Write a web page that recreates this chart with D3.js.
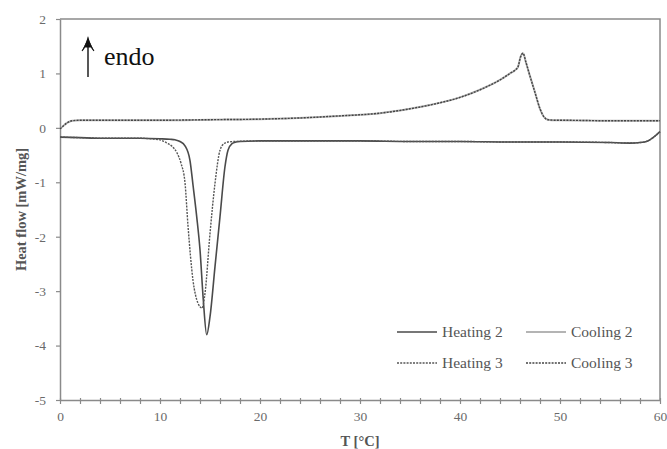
<!DOCTYPE html>
<html>
<head>
<meta charset="utf-8">
<script src="https://cdn.jsdelivr.net/npm/d3@7"></script>
<style>
  body { margin: 0; background: #fff; }
  svg { display: block; }
</style>
</head>
<body>
<svg id="chart" width="667" height="449"></svg>
<script>
// DSC curves
const heat2T = [0, 2, 4, 6, 8, 10, 11, 11.5, 12, 12.5, 13, 13.3, 13.67, 14, 14.33, 14.67, 15, 15.5, 16, 16.5, 16.8, 17.2, 17.6, 18, 20, 25, 30, 35, 40, 45, 50, 55, 57, 58, 58.8, 59.3, 59.7, 60];
const heat2 = [-0.17, -0.18, -0.19, -0.19, -0.19, -0.2, -0.21, -0.22, -0.25, -0.33, -0.6, -1.05, -1.63, -2.24, -3.16, -3.80, -3.47, -2.55, -1.63, -0.71, -0.41, -0.29, -0.26, -0.25, -0.24, -0.24, -0.24, -0.25, -0.25, -0.26, -0.26, -0.27, -0.28, -0.27, -0.24, -0.18, -0.12, -0.07];

const heat3T = [0, 2, 4, 6, 8, 9, 10, 10.7, 11.2, 11.7, 12.1, 12.5, 12.8, 13.3, 13.8, 14.2, 14.5, 15, 15.5, 16, 16.4, 16.8, 17.5, 20, 25, 30, 35, 40, 45, 50, 55, 57, 58, 58.8, 59.3, 59.7, 60];
const heat3 = [-0.17, -0.18, -0.19, -0.19, -0.19, -0.2, -0.22, -0.28, -0.34, -0.46, -0.65, -1.01, -1.8, -2.8, -3.22, -3.31, -3.04, -1.94, -1.02, -0.41, -0.29, -0.26, -0.25, -0.24, -0.24, -0.24, -0.25, -0.25, -0.26, -0.26, -0.27, -0.28, -0.27, -0.24, -0.18, -0.12, -0.07];

const cool2T = [0, 0.3, 0.7, 1.2, 2, 5, 10, 15, 20, 25, 28, 30, 32, 35, 37, 40, 42, 44, 45, 45.5, 45.8, 46.05, 46.3, 46.6, 47, 47.5, 48, 48.4, 48.8, 49.5, 50, 55, 60];
const cool2 = [-0.02, 0.03, 0.09, 0.13, 0.14, 0.14, 0.14, 0.15, 0.16, 0.19, 0.22, 0.24, 0.27, 0.35, 0.42, 0.56, 0.70, 0.88, 1.0, 1.06, 1.12, 1.3, 1.37, 1.2, 0.95, 0.65, 0.35, 0.2, 0.15, 0.14, 0.14, 0.13, 0.13];

const cool3T = [0, 0.3, 0.7, 1.2, 2, 5, 10, 15, 20, 25, 28, 30, 32, 35, 37, 40, 42, 44, 45, 45.5, 45.8, 46.05, 46.3, 46.6, 47, 47.5, 48, 48.4, 48.8, 49.5, 50, 55, 60];
const cool3 = [-0.02, 0.03, 0.09, 0.13, 0.14, 0.14, 0.14, 0.15, 0.16, 0.19, 0.22, 0.24, 0.27, 0.35, 0.42, 0.56, 0.70, 0.88, 1.0, 1.06, 1.12, 1.3, 1.37, 1.2, 0.95, 0.65, 0.35, 0.2, 0.15, 0.14, 0.14, 0.13, 0.13];

const xTicks = [0, 10, 20, 30, 40, 50, 60];
const yTicks = [-5, -4, -3, -2, -1, 0, 1, 2];
const legendNames = ["Heating 2", "Cooling 2", "Heating 3", "Cooling 3"];

const svg = d3.select("#chart");
const mLeft = 60, mRight = 660, mTop = 19, mBottom = 400;
const axisColor = "#8a8a8a";
const font = "'Liberation Serif', 'Times New Roman', serif";

const x = d3.scaleLinear().domain([0, 60]).range([mLeft, mRight]);
const y = d3.scaleLinear().domain([-5, 2]).range([mBottom, mTop]);

//frame (top + right)
svg.append("path")
  .attr("d", `M${mLeft},${mTop}H${mRight}V${mBottom}`)
  .attr("fill", "none")
  .attr("stroke", axisColor)
  .attr("stroke-width", 1.5)

//x axis with minor ticks every 2
const xAxis = svg.append("g")
  .attr("transform", `translate(0,${mBottom})`)
  .call(d3.axisBottom(x).tickValues(d3.range(0, 61, 2)).tickSize(4).tickSizeOuter(0)
    .tickFormat(d => xTicks.includes(d) ? String(d) : ""))
xAxis.select(".domain").attr("stroke", axisColor).attr("stroke-width", 1.5)
xAxis.selectAll(".tick line").attr("stroke", axisColor).attr("stroke-width", 1.2).attr("y1", -2)
xAxis.selectAll(".tick text")
  .attr("fill", "#6a6a6a").attr("font-family", font).attr("font-size", 13.5).attr("dy", "0.9em").attr("y", 9)

const yAxis = svg.append("g")
  .attr("transform", `translate(${mLeft},0)`)
  .call(d3.axisLeft(y).tickValues(yTicks).tickSize(4).tickSizeOuter(0).tickFormat(d => String(d)))
yAxis.select(".domain").attr("stroke", axisColor).attr("stroke-width", 1.5)
yAxis.selectAll(".tick line").attr("stroke", axisColor).attr("stroke-width", 1.2)
yAxis.selectAll(".tick text")
  .attr("fill", "#6a6a6a").attr("font-family", font).attr("font-size", 13.5).attr("x", -14)

//axis titles
svg.append("text")
  .attr("transform", `translate(26,${(mTop + mBottom) / 2}) rotate(-90)`)
  .attr("text-anchor", "middle")
  .attr("font-family", font).attr("font-weight", "bold").attr("font-size", 14.5)
  .attr("fill", "#555")
  .text("Heat flow [mW/mg]")

svg.append("text")
  .attr("x", (mLeft + mRight) / 2).attr("y", 446)
  .attr("text-anchor", "middle")
  .attr("font-family", font).attr("font-weight", "bold").attr("font-size", 14.5)
  .attr("fill", "#555")
  .text("T [°C]")

//curves
const line = d3.line().x(d => x(d[0])).y(d => y(d[1])).curve(d3.curveMonotoneX);
const series = [
  { name: legendNames[1], T: cool2T, v: cool2, color: "#b4b4b4", width: 2, dash: null },
  { name: legendNames[3], T: cool3T, v: cool3, color: "#444", width: 1.4, dash: "2,1.2" },
  { name: legendNames[0], T: heat2T, v: heat2, color: "#4a4a4a", width: 1.6, dash: null },
  { name: legendNames[2], T: heat3T, v: heat3, color: "#555", width: 1.4, dash: "2,1.2" }
];

series.forEach(s => {
  svg.append("path")
    .datum(s.T.map((t, i) => [t, s.v[i]]))
    .attr("d", line)
    .attr("fill", "none")
    .attr("stroke", s.color)
    .attr("stroke-width", s.width)
    .attr("stroke-dasharray", s.dash)
})

//endo arrow
svg.append("path")
  .attr("d", "M88,77V42")
  .attr("stroke", "#111").attr("stroke-width", 1.4).attr("fill", "none")
svg.append("path")
  .attr("d", "M88,38 Q86,46 82,51 M88,38 Q90,46 94,51 M88,38 L85.5,47 L90.5,47 Z")
  .attr("stroke", "#111").attr("stroke-width", 1.1).attr("fill", "#111")
svg.append("text")
  .attr("x", 104).attr("y", 65)
  .attr("font-family", font).attr("font-size", 26).attr("fill", "#111")
  .text("endo")

//legend
const legendPos = [[397, 332], [526, 332], [397, 363], [526, 363]];
legendNames.forEach((name, i) => {
  const s = series.find(d => d.name === name);
  const [lx, ly] = legendPos[i];
  svg.append("line")
    .attr("x1", lx).attr("x2", lx + 40).attr("y1", ly).attr("y2", ly)
    .attr("stroke", s.color).attr("stroke-width", s.width)
    .attr("stroke-dasharray", s.dash)
  svg.append("text")
    .attr("x", lx + 45).attr("y", ly + 5)
    .attr("font-family", font).attr("font-size", 15.5).attr("fill", "#555")
    .text(name)
})
</script>
</body>
</html>
